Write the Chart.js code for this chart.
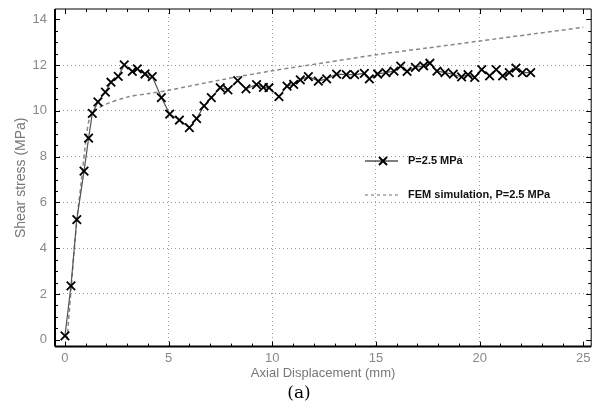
<!DOCTYPE html>
<html>
<head>
    <title>Shear stress vs axial displacement</title>
    <script src="https://cdn.jsdelivr.net/npm/chart.js"></script>
    <style>
        body { margin: 0; background: #fff; }
        .chart-container { width: 599px; height: 410px; position: relative; }
    </style>
</head>
<body>
    <div class="chart-container">
        <canvas id="shearChart"></canvas>
    </div>

    <script>
        // test data, P = 2.5 MPa
        const testDisp = [0, 0.29, 0.57, 0.92, 1.14, 1.32, 1.59, 1.95, 2.22, 2.57,
            2.86, 3.25, 3.49, 3.86, 4.21, 4.65, 5.05, 5.52, 6.0, 6.35,
            6.71, 7.06, 7.49, 7.86, 8.33, 8.73, 9.24, 9.57, 9.84, 10.32,
            10.71, 11.03, 11.35, 11.74, 12.22, 12.62, 13.1, 13.57, 13.97, 14.44,
            14.68, 15.08, 15.48, 15.87, 16.19, 16.5, 16.9, 17.3, 17.6, 17.94,
            18.33, 18.73, 19.13, 19.44, 19.76, 20.1, 20.48, 20.8, 21.11, 21.43,
            21.75, 22.06, 22.46];
        const testStress = [0.17, 2.35, 5.25, 7.37, 8.81, 9.89, 10.39, 10.82, 11.25, 11.51,
            12.01, 11.72, 11.83, 11.61, 11.5, 10.58, 9.86, 9.6, 9.27, 9.66,
            10.22, 10.58, 11.01, 10.92, 11.32, 10.96, 11.15, 11.03, 11.01, 10.62,
            11.08, 11.16, 11.35, 11.5, 11.3, 11.4, 11.6, 11.58, 11.58, 11.64,
            11.4, 11.61, 11.67, 11.74, 11.95, 11.72, 11.9, 11.97, 12.08, 11.74,
            11.67, 11.6, 11.48, 11.58, 11.46, 11.8, 11.53, 11.8, 11.53, 11.67,
            11.87, 11.67, 11.67];

        // FEM simulation
        const femDisp = [0.1, 0.55, 0.8, 1.05, 1.2, 1.5, 2, 3, 4, 5, 7.5, 10, 12.5, 15, 17.5, 20, 22.5, 25];
        const femStress = [0, 5, 7, 9, 9.7, 10.05, 10.3, 10.6, 10.75, 10.9, 11.35, 11.75, 12.1, 12.45, 12.75, 13.05, 13.35, 13.65];

        const xTicks = [0, 5, 10, 15, 20, 25];
        const yTicks = [0, 2, 4, 6, 8, 10, 12, 14];

        const toPoints = (xs, ys) => xs.map((v, i) => ({ x: v, y: ys[i] }));

        // frame with inward ticks + legend inside the plot
        const framePlugin = {
            id: 'frame',
            afterDatasetsDraw(chart) {
                const { ctx, chartArea: a, scales: { x, y } } = chart;
                ctx.save();
                ctx.strokeStyle = '#000';
                ctx.lineWidth = 1;
                const seg = (x1, y1, x2, y2) => {
                    ctx.beginPath(); ctx.moveTo(x1, y1); ctx.lineTo(x2, y2); ctx.stroke();
                };
                for (let v = 0; v <= 25; v += 1) {
                    const px = Math.round(x.getPixelForValue(v)) + 0.5;
                    const len = v % 5 === 0 ? 5 : 3;
                    seg(px, a.bottom, px, a.bottom - len);
                    seg(px, a.top, px, a.top + len);
                }
                for (let v = 0; v <= 14; v += 0.5) {
                    const py = Math.round(y.getPixelForValue(v)) + 0.5;
                    const len = v % 2 === 0 ? 5 : 3;
                    seg(a.left, py, a.left + len, py);
                    seg(a.right, py, a.right - len, py);
                }
                seg(a.left, a.top, a.right, a.top);
                seg(a.right, a.top, a.right, a.bottom);
                ctx.lineWidth = 2;
                seg(a.left, a.top, a.left, a.bottom);
                seg(a.left, a.bottom, a.right, a.bottom);

                // legend
                ctx.lineWidth = 1;
                seg(365, 161, 398, 161);
                ctx.lineWidth = 2;
                seg(379, 157, 387, 165);
                seg(379, 165, 387, 157);
                ctx.strokeStyle = '#888';
                ctx.lineWidth = 1.2;
                ctx.setLineDash([3, 3]);
                seg(365, 195, 398, 195);
                ctx.setLineDash([]);
                ctx.fillStyle = '#111';
                ctx.font = 'bold 11px "Liberation Sans", Arial, sans-serif';
                ctx.textBaseline = 'middle';
                ctx.fillText('P=2.5 MPa', 408, 161);
                ctx.fillText('FEM simulation, P=2.5 MPa', 408, 195);
                ctx.restore();
            }
        };

        const hideEdge = (edges) => (c) => edges.includes(c.tick.value) ? 'rgba(0,0,0,0)' : '#999';

        const ctx = document.getElementById('shearChart').getContext('2d');
        const chart = new Chart(ctx, {
            type: 'line',
            data: {
                datasets: [
                    {
                        label: 'P=2.5 MPa',
                        data: toPoints(testDisp, testStress),
                        borderColor: '#555',
                        borderWidth: 1.2,
                        pointStyle: 'crossRot',
                        pointRadius: 6,
                        pointBorderWidth: 1.8,
                        pointBorderColor: '#000',
                        tension: 0
                    },
                    {
                        label: 'FEM simulation, P=2.5 MPa',
                        data: toPoints(femDisp, femStress),
                        borderColor: '#888',
                        borderWidth: 1.5,
                        borderDash: [4, 3],
                        pointRadius: 0,
                        tension: 0.3
                    }
                ]
            },
            options: {
                responsive: true,
                maintainAspectRatio: false,
                animation: false,
                layout: { padding: { top: 9, right: 1, left: 0, bottom: 0 } },
                plugins: {
                    legend: { display: false },
                    tooltip: { enabled: false },
                    title: {
                        display: true,
                        position: 'bottom',
                        text: '(a)',
                        color: '#000',
                        font: { family: '"DejaVu Serif", "Liberation Serif", serif', size: 17, weight: 'normal' },
                        padding: { top: 0, bottom: 6 }
                    }
                },
                scales: {
                    x: {
                        type: 'linear',
                        min: -0.48,
                        max: 25.38,
                        afterBuildTicks: (s) => { s.ticks = xTicks.map(v => ({ value: v })); },
                        afterFit: (s) => { s.height = 37; s.paddingLeft = 0; s.paddingRight = 0; },
                        ticks: {
                            color: '#888',
                            padding: 4,
                            font: { family: '"Liberation Sans", Arial, sans-serif', size: 13 }
                        },
                        grid: { color: hideEdge([0, 25]), drawTicks: false },
                        border: { display: false, dash: [1, 3] },
                        title: {
                            display: true,
                            text: 'Axial Displacement (mm)',
                            color: '#777',
                            font: { family: '"Liberation Sans", Arial, sans-serif', size: 13 },
                            padding: { top: 0, bottom: 2 }
                        }
                    },
                    y: {
                        type: 'linear',
                        min: -0.3,
                        max: 14.45,
                        afterBuildTicks: (s) => { s.ticks = yTicks.map(v => ({ value: v })); },
                        afterFit: (s) => { s.width = 55; s.paddingTop = 0; s.paddingBottom = 0; },
                        ticks: {
                            color: '#888',
                            padding: 8,
                            font: { family: '"Liberation Sans", Arial, sans-serif', size: 13 }
                        },
                        grid: { color: hideEdge([0, 14]), drawTicks: false },
                        border: { display: false, dash: [1, 3] },
                        title: {
                            display: true,
                            text: 'Shear stress (MPa)',
                            color: '#777',
                            font: { family: '"Liberation Sans", Arial, sans-serif', size: 14 },
                            padding: { top: 13, bottom: 0 }
                        }
                    }
                }
            },
            plugins: [framePlugin]
        });
    </script>
</body>
</html>
